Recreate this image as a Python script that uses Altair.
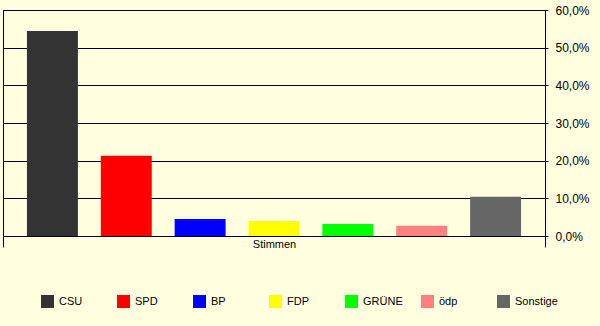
import altair as alt
import pandas as pd

parties = ["CSU", "SPD", "BP", "FDP", "GRÜNE", "ödp", "Sonstige"]
values = [54.4, 21.3, 4.5, 4.0, 3.2, 2.7, 10.4]
colors = ["#333333", "#FF0000", "#0000FF", "#FFFF00", "#00FF00", "#FF8080", "#666666"]
category = "Stimmen"
y_ticks = [0, 10, 20, 30, 40, 50, 60]

df = pd.DataFrame({"Kategorie": [category] * len(parties), "Partei": parties, "Wert": values})

FONT = "Liberation Sans"

chart = alt.Chart(df).mark_bar().encode(
    x=alt.X("Kategorie:N", title=None,
            scale=alt.Scale(paddingInner=0, paddingOuter=0),
            axis=alt.Axis(orient="bottom", labelAngle=0, tickBand="extent", tickSize=11,
                          tickColor="black", domainColor="black", labelColor="black",
                          labelFont=FONT, labelFontSize=11, labelPadding=-9, grid=False)),
    xOffset=alt.XOffset("Partei:N", sort=parties,
                        scale=alt.Scale(paddingInner=0.31, paddingOuter=0.324)),
    y=alt.Y("Wert:Q", title=None,
            scale=alt.Scale(domain=[0, 60], nice=False),
            axis=alt.Axis(orient="right", values=y_ticks, grid=True, gridColor="black",
                          gridOpacity=1, domainColor="black", tickColor="black", tickSize=3,
                          labelColor="black", labelFont=FONT, labelFontSize=12, labelPadding=7,
                          labelExpr="replace(format(datum.value, '.1f'), '.', ',') + '%'")),
    color=alt.Color("Partei:N", sort=parties,
                    scale=alt.Scale(domain=parties, range=colors),
                    legend=alt.Legend(title=None, orient="none", legendX=38, legendY=285,
                                      direction="horizontal", columns=7, gridAlign="all",
                                      symbolType="square", symbolSize=169, symbolStrokeWidth=0,
                                      symbolOpacity=1, labelFont=FONT, labelFontSize=11,
                                      labelColor="black", labelOffset=5, columnPadding=15,
                                      padding=0)),
).properties(
    width=542, height=226,
    background="#FFFFE0",
    padding={"left": 3, "top": 10, "right": 55, "bottom": 90},
    autosize=alt.AutoSizeParams(type="none"),
).configure_view(stroke="black", strokeWidth=1, fill="#FFFFE0")

chart.save("out.html", embed_options={"renderer": "svg", "actions": False})
